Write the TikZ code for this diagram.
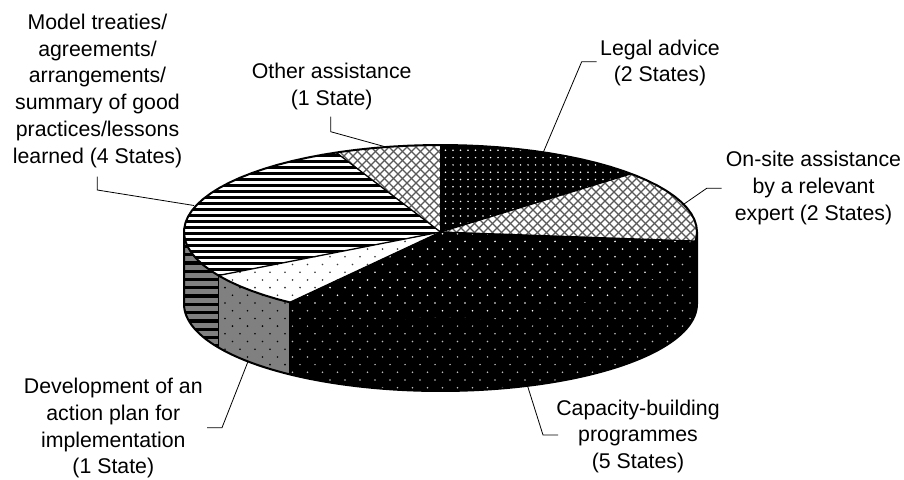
\documentclass[tikz,border=0pt]{standalone}
\usepackage{fontspec}
\setmainfont{Liberation Sans}
\begin{document}
\begin{tikzpicture}[x=1pt,y=-1pt,
  rim/.style={line width=2pt,line join=round},
  edge/.style={line width=1.3pt},
  leader/.style={line width=0.8pt},
  lbl/.style={inner sep=0pt,align=center,anchor=north,font=\fontsize{21.3}{26.7}\selectfont},
  hatch/.style={black!65,line width=1.1pt},
  sidegray/.style={fill=black!50}]

% pie geometry: centre, radii, thickness
\def\cx{440.5}\def\cy{232}\def\ra{256.5}\def\rb{87}\def\dep{72}
% elliptic arcs of the top and bottom faces
\def\TA#1#2{-- plot[domain=#1:#2,samples=90,variable=\t]({\cx+\ra*cos(\t)},{\cy-\rb*sin(\t)})}
\def\BA#1#2{-- plot[domain=#1:#2,samples=90,variable=\t]({\cx+\ra*cos(\t)},{\cy+\dep-\rb*sin(\t)})}

\useasboundingbox (0,0) rectangle (904,479);
\fill[white] (0,0) rectangle (904,479);

\coordinate (O) at (\cx,\cy);
\coordinate (pLO) at ({\cx+\ra*cos(90)},{\cy-\rb*sin(90)});
\coordinate (pLS) at ({\cx+\ra*cos(42)},{\cy-\rb*sin(42)});
\coordinate (pSC) at ({\cx+\ra*cos(-6)},{\cy-\rb*sin(-6)});
\coordinate (pCD) at ({\cx+\ra*cos(-126)},{\cy-\rb*sin(-126)});
\coordinate (pDM) at ({\cx+\ra*cos(-150)},{\cy-\rb*sin(-150)});
\coordinate (pMO) at ({\cx+\ra*cos(114)},{\cy-\rb*sin(114)});
\coordinate (qCD) at ({\cx+\ra*cos(-126)},{\cy+\dep-\rb*sin(-126)});
\coordinate (qDM) at ({\cx+\ra*cos(-150)},{\cy+\dep-\rb*sin(-150)});

% ---------- side faces ----------
% Model treaties (side)
\begin{scope}
  \clip ({\cx-\ra},{\cy}) \TA{-180}{-150} \BA{-150}{-180} -- cycle;
  \fill[sidegray] (170,220) rectangle (240,370);
  \foreach \k in {0,...,17}
    \fill[black] (170,{228+8.3*\k}) rectangle (240,{228+8.3*\k+3.3});
\end{scope}
% Development of an action plan (side)
\begin{scope}
  \clip (pDM) \TA{-150}{-126} \BA{-126}{-150} -- cycle;
  \fill[sidegray] (200,260) rectangle (300,380);
  \foreach \j in {0,...,22}
    \foreach \i in {0,...,8}
      \fill[black] ({180+15*\i+7.5*mod(\j,2)},{226+7.7*\j}) circle[radius=0.9pt];
\end{scope}
% Capacity-building (side)
\begin{scope}
  \clip (pCD) \TA{-126}{0} \BA{0}{-126} -- cycle;
  \fill[black] (280,220) rectangle (705,400);
  \foreach \j in {0,...,22}
    \foreach \i in {6,...,35}
      \fill[black!25] ({180+15*\i+7.5*mod(\j,2)},{226+7.7*\j}) circle[radius=0.85pt];
\end{scope}

% ---------- top faces ----------
% Legal advice
\begin{scope}
  \clip (O) \TA{90}{42} -- cycle;
  \fill[black] (430,140) rectangle (640,240);
  \foreach \j in {0,...,13}
    \foreach \i in {0,...,27}
      \fill[white] ({438+7.5*\i},{143+7.3*\j}) circle[radius=0.85pt];
\end{scope}
% On-site assistance
\begin{scope}
  \clip (O) \TA{42}{-6} -- cycle;
  \foreach \k in {0,...,70}{
    \draw[hatch] ({200+9*\k},120) -- ++(140,140);
    \draw[hatch] ({200+9*\k},120) -- ++(-140,140);}
\end{scope}
% Capacity-building programmes
\begin{scope}
  \clip (O) \TA{-6}{-126} -- cycle;
  \fill[black] (280,220) rectangle (705,330);
  \foreach \j in {0,...,14}
    \foreach \i in {6,...,35}
      \fill[white] ({180+15*\i+7.5*mod(\j,2)},{226+7.7*\j}) circle[radius=0.9pt];
\end{scope}
% Development of an action plan
\begin{scope}
  \clip (O) \TA{-126}{-150} -- cycle;
  \foreach \j in {0,...,12}
    \foreach \i in {0,...,18}
      \fill[black!80] ({180+15*\i+7.5*mod(\j,2)},{226+7.7*\j}) circle[radius=0.9pt];
\end{scope}
% Model treaties
\begin{scope}
  \clip (O) \TA{-150}{-246} -- cycle;
  \foreach \k in {0,...,25}
    \fill[black] (180,{148+6*\k}) rectangle (445,{148+6*\k+3});
\end{scope}
% Other assistance
\begin{scope}
  \clip (O) \TA{114}{90} -- cycle;
  \foreach \k in {0,...,70}{
    \draw[hatch] ({200+9*\k},120) -- ++(140,140);
    \draw[hatch] ({200+9*\k},120) -- ++(-140,140);}
\end{scope}

% ---------- edges and outline ----------
\draw[edge] (O) -- (pLO);
\draw[edge] (O) -- (pLS);
\draw[edge] (O) -- (pSC);
\draw[edge] (O) -- (pCD);
\draw[edge] (O) -- (pDM);
\draw[edge] (O) -- (pMO);
\draw[edge] (pCD) -- (qCD);
\draw[edge] (pDM) -- (qDM);
\draw[rim] ({\cx+\ra},{\cy}) \TA{0}{360} -- cycle;
\draw[rim] ({\cx-\ra},{\cy}) -- ({\cx-\ra},{\cy+\dep}) \BA{180}{360} -- ({\cx+\ra},{\cy});

% ---------- labels ----------
\node[lbl] (model) at (97.5,12.3) {\rule{0pt}{17pt}Model treaties/\\agreements/\\arrangements/\\summary of good\\practices/lessons\\learned (4 States)};
\node[lbl] (other) at (331.7,61.3) {\rule{0pt}{17pt}Other assistance\\(1 State)};
\node[lbl] (legal) at (660,38) {\rule{0pt}{17pt}Legal advice\\(2 States)};
\node[lbl] (onsite) at (813.5,149.7) {\rule{0pt}{17pt}On-site assistance\\by a relevant\\expert (2 States)};
\node[lbl] (capacity) at (638,398) {\rule{0pt}{17pt}Capacity-building\\programmes\\(5 States)};
\node[lbl] (devel) at (113.3,376.5) {\rule{0pt}{17pt}Development of an\\action plan for\\implementation\\(1 State)};

% ---------- leader lines ----------
\coordinate (mS) at (97.3,176.7);  \coordinate (mK) at (97.3,190);   \coordinate (mE) at (194,205.5);
\coordinate (oS) at (330.7,116.7); \coordinate (oK) at (330.7,131.7); \coordinate (oE) at (386.7,147.2);
\coordinate (lS) at (596.7,61.7);  \coordinate (lK) at (581.7,61.7);  \coordinate (lE) at (543.3,152.3);
\coordinate (sS) at (721.7,188.3); \coordinate (sK) at (706.7,188.3); \coordinate (sE) at (683.3,204.5);
\coordinate (cS) at (558,435);     \coordinate (cK) at (543,435);     \coordinate (cE) at (527.5,385.8);
\coordinate (dS) at (207,427.7);   \coordinate (dK) at (222,427.7);   \coordinate (dE) at (248,361.5);
\draw[leader] (mS) -- (mK) -- (mE);
\draw[leader] (oS) -- (oK) -- (oE);
\draw[leader] (lS) -- (lK) -- (lE);
\draw[leader] (sS) -- (sK) -- (sE);
\draw[leader] (cS) -- (cK) -- (cE);
\draw[leader] (dS) -- (dK) -- (dE);
\end{tikzpicture}
\end{document}
